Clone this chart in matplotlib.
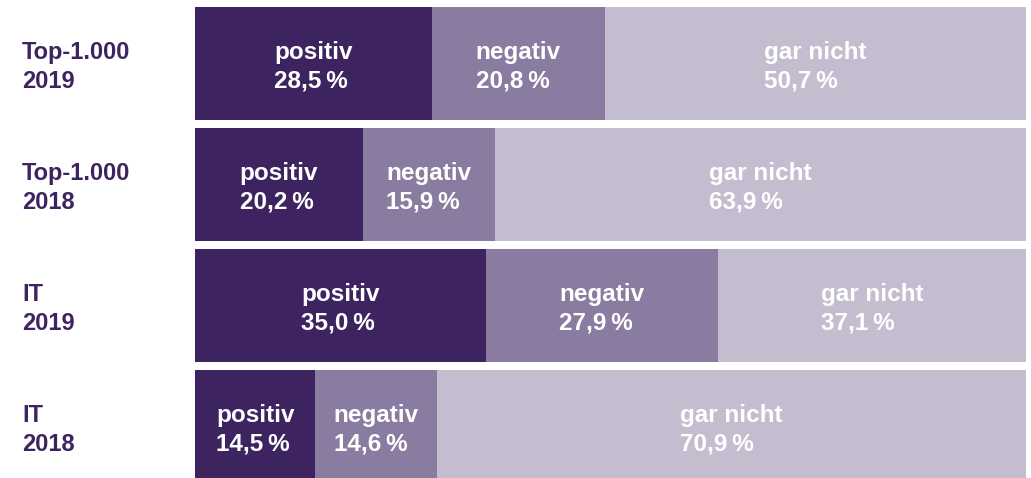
import matplotlib
matplotlib.use('Agg')
import matplotlib.pyplot as plt
import numpy as np

plt.rcParams['font.family'] = ['Liberation Sans', 'DejaVu Sans']

groups = ['Top-1.000\n2019', 'Top-1.000\n2018', 'IT\n2019', 'IT\n2018']
categories = ['positiv', 'negativ', 'gar nicht']
positiv = [28.5, 20.2, 35.0, 14.5]
negativ = [20.8, 15.9, 27.9, 14.6]
gar_nicht = [50.7, 63.9, 37.1, 70.9]

colors = ['#3d2461', '#8a7ca0', '#c4bdd0']
label_color = '#3d2461'

fig = plt.figure(figsize=(10.31, 4.78), dpi=100)
ax = fig.add_axes([195 / 1031, 1 - 483 / 478, 831 / 1031, 476 / 478])

y = np.arange(len(groups))
bar_h = 113 / 121
left = np.zeros(len(groups))
for cat, vals, col in zip(categories, [positiv, negativ, gar_nicht], colors):
    vals = np.array(vals)
    ax.barh(y, vals, left=left, height=bar_h, color=col, edgecolor='none')
    for yi, l, v in zip(y, left, vals):
        txt = f'{cat}\n{v:.1f}\u2009%'.replace('.', ',')
        ax.text(l + v / 2, yi + 0.03, txt, ha='center', va='center', multialignment='left',
                color='white', fontsize=17.5, fontweight='bold', linespacing=1.3)
    left += vals

# row labels on the left
for yi, g in zip(y, groups):
    ax.annotate(g, xy=(0, yi + 0.03), xycoords=('figure fraction', 'data'),
                xytext=(22, 0), textcoords='offset pixels', ha='left', va='center',
                color=label_color, fontsize=17, fontweight='bold', linespacing=1.3)

ax.set_xlim(0, 100)
ax.set_ylim(len(groups) - 1 + bar_h / 2, -bar_h / 2)
ax.axis('off')

fig.savefig('out.png', dpi=100)
